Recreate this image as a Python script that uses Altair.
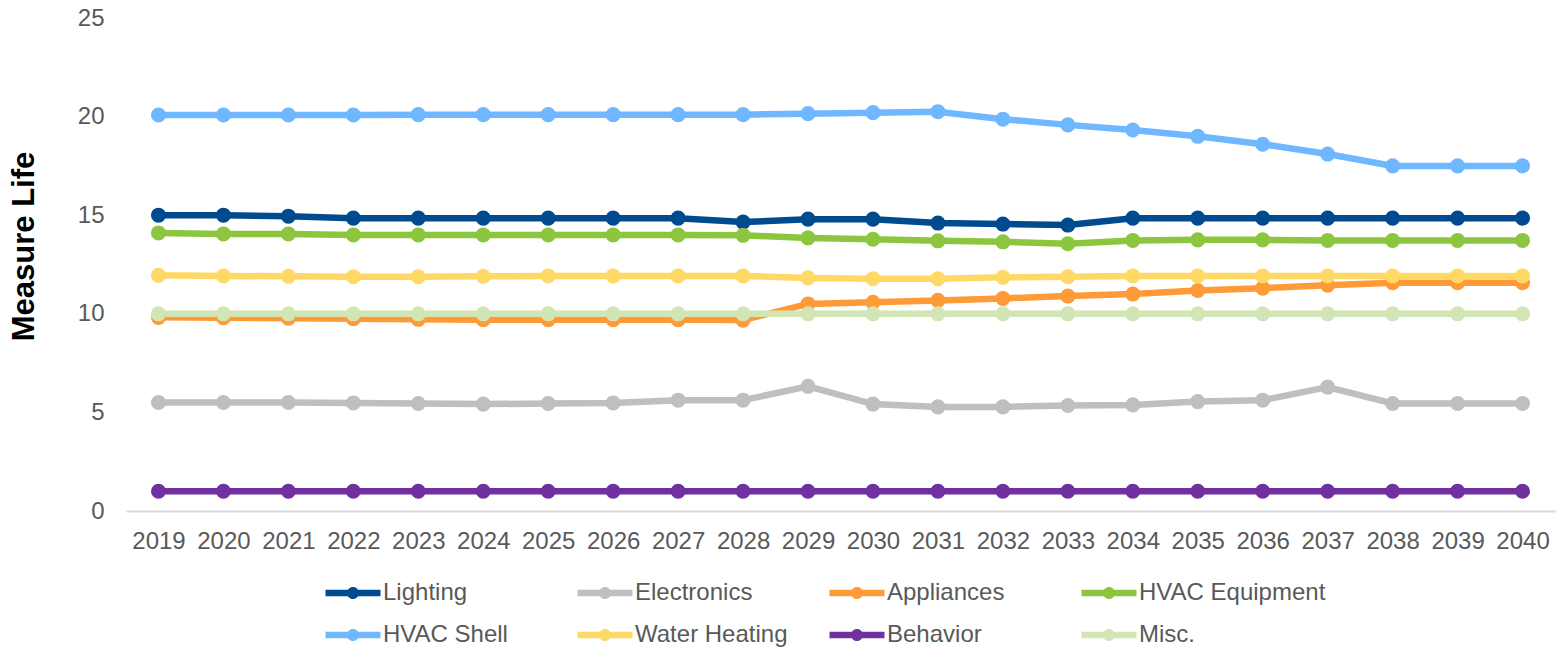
import altair as alt
import pandas as pd

years = list(range(2019, 2041))
series_names = ["Lighting", "Electronics", "Appliances", "HVAC Equipment",
                "HVAC Shell", "Water Heating", "Behavior", "Misc."]
colors = ["#004A8F", "#BFBFBF", "#FF9A38", "#8CC63F",
          "#6FB7FF", "#FFD966", "#7030A0", "#D2E6B5"]

lighting = [15.0, 15.0, 14.95, 14.85, 14.85, 14.85, 14.85, 14.85, 14.85, 14.65, 14.8,
            14.8, 14.6, 14.55, 14.5, 14.85, 14.85, 14.85, 14.85, 14.85, 14.85, 14.85]
electronics = [5.5, 5.5, 5.5, 5.48, 5.45, 5.42, 5.45, 5.48, 5.62, 5.62, 6.32,
               5.42, 5.28, 5.28, 5.35, 5.38, 5.55, 5.62, 6.28, 5.45, 5.45, 5.45]
appliances = [9.82, 9.8, 9.78, 9.75, 9.72, 9.7, 9.7, 9.7, 9.7, 9.68, 10.5,
              10.58, 10.68, 10.78, 10.9, 11.0, 11.18, 11.3, 11.45, 11.58, 11.58, 11.58]
hvac_equipment = [14.1, 14.05, 14.05, 14.0, 14.0, 14.0, 14.0, 14.0, 14.0, 13.98, 13.85,
                  13.78, 13.7, 13.65, 13.55, 13.72, 13.75, 13.75, 13.72, 13.72, 13.72, 13.72]
hvac_shell = [20.08, 20.08, 20.08, 20.08, 20.1, 20.1, 20.1, 20.1, 20.1, 20.1, 20.15,
              20.2, 20.25, 19.87, 19.58, 19.32, 19.0, 18.6, 18.1, 17.5, 17.5, 17.5]
water_heating = [11.95, 11.92, 11.9, 11.88, 11.88, 11.9, 11.92, 11.92, 11.92, 11.92, 11.82,
                 11.78, 11.78, 11.85, 11.88, 11.92, 11.92, 11.92, 11.92, 11.92, 11.92, 11.92]
behavior = [1.0] * 22
misc = [10.0] * 22

all_series = [lighting, electronics, appliances, hvac_equipment,
              hvac_shell, water_heating, behavior, misc]

rows = []
for idx, (name, vals) in enumerate(zip(series_names, all_series)):
    for y, v in zip(years, vals):
        rows.append({"Year": str(y), "Measure Life": v, "Series": name, "order": idx})
df = pd.DataFrame(rows)

FONT = "Liberation Sans"
GRAY = "#595959"

legend_path = ("M-2.75,-0.33H2.75V0.33H-2.75Z "
               "M0.6,0A0.6,0.6,0,1,1,-0.6,0A0.6,0.6,0,1,1,0.6,0Z")

color = alt.Color(
    "Series:N",
    scale=alt.Scale(domain=series_names, range=colors),
    sort=series_names,
    legend=alt.Legend(
        title=None,
        orient="none",
        legendX=215,
        legendY=563,
        direction="horizontal",
        columns=4,
        gridAlign="all",
        symbolType=legend_path,
        symbolSize=400,
        symbolStrokeWidth=0,
        labelFont=FONT,
        labelFontSize=24,
        labelColor=GRAY,
        labelOffset=18,
        columnPadding=7,
        rowPadding=18,
        padding=0,
        labelLimit=400,
    ),
)

x = alt.X("Year:O", axis=alt.Axis(
    title=None, labelAngle=0, labelFont=FONT, labelFontSize=24, labelColor=GRAY,
    labelPadding=18, ticks=False, domainColor="#D9D9D9", domainWidth=2,
), scale=alt.Scale(type="point", padding=0.5))

y = alt.Y("Measure Life:Q", scale=alt.Scale(domain=[0, 25]), axis=alt.Axis(
    title="Measure Life", values=[0, 5, 10, 15, 20, 25], grid=False, domain=False,
    ticks=False, labelFont=FONT, labelFontSize=24, labelColor=GRAY, labelPadding=22,
    titleFont=FONT, titleFontSize=31, titleFontWeight="bold", titleColor="#000000",
    titleX=-102, titleY=228, titleAngle=270, titleAlign="center", titleBaseline="middle",
))

base = alt.Chart(df).encode(x=x, y=y, color=color, order=alt.Order("order:Q"))

lines = base.mark_line(strokeWidth=6.5)
points = base.mark_circle(size=227, opacity=1)

chart = alt.layer(lines, points).properties(
    width=1429,
    height=493,
    background="white",
    autosize=alt.AutoSizeParams(type="none"),
    padding={"left": 126, "top": 18, "right": 3, "bottom": 136},
).configure_view(strokeWidth=0, stroke="transparent")

chart.save("out.html", embed_options={"renderer": "svg", "actions": False})
